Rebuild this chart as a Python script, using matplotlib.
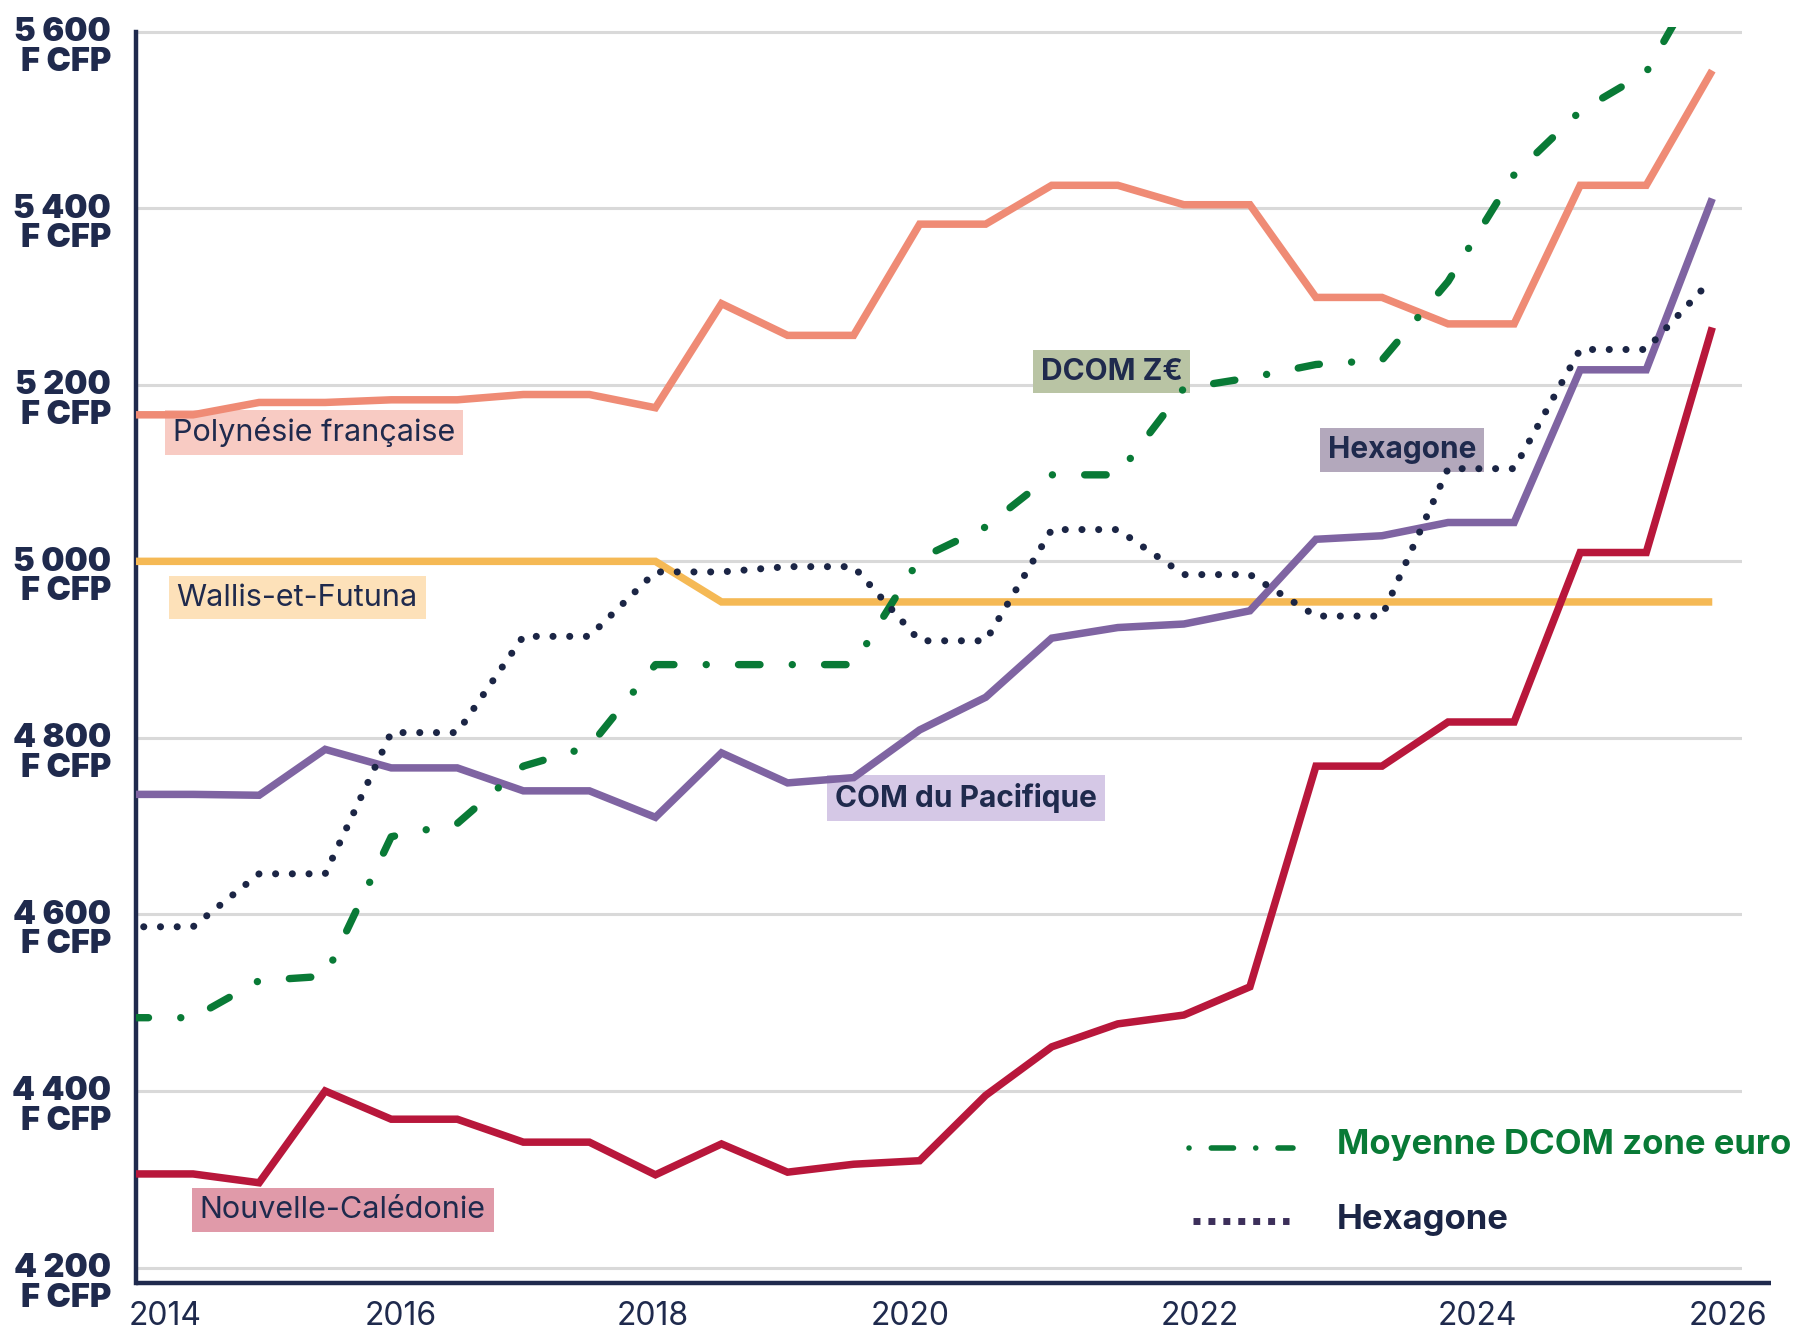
import matplotlib.pyplot as plt
from matplotlib import transforms

# points semestriels (0 = début 2014 ... 24 = fin 2025)
semesters = list(range(25))

polynesie = [5166, 5166, 5180, 5180, 5183, 5183, 5189, 5189, 5174, 5292, 5256, 5256, 5382,
             5382, 5426, 5426, 5404, 5404, 5299, 5299, 5269, 5269, 5426, 5426, 5556]
wallis = [5000, 5000, 5000, 5000, 5000, 5000, 5000, 5000, 5000, 4954, 4954, 4954, 4954,
          4954, 4954, 4954, 4954, 4954, 4954, 4954, 4954, 4954, 4954, 4954, 4954]
com_pacifique = [4736, 4736, 4735, 4787, 4766, 4766, 4740, 4740, 4710, 4783, 4749, 4755, 4809,
                 4846, 4913, 4925, 4929, 4944, 5025, 5029, 5044, 5044, 5217, 5217, 5411]
caledonie = [4306, 4306, 4296, 4400, 4368, 4368, 4342, 4342, 4305, 4340, 4308, 4317, 4321,
             4395, 4450, 4476, 4486, 4518, 4768, 4768, 4818, 4818, 5010, 5010, 5265]
hexagone = [4586, 4586, 4646, 4646, 4806, 4806, 4915, 4915, 4988, 4988, 4994, 4994, 4910,
            4910, 5036, 5036, 4985, 4985, 4938, 4938, 5105, 5105, 5240, 5240, 5320]
dcom_euro = [4483, 4483, 4525, 4530, 4688, 4703, 4768, 4790, 4883, 4883, 4883, 4883, 5003,
             5039, 5098, 5098, 5196, 5208, 5223, 5228, 5317, 5438, 5510, 5554, 5685]

year_labels = ["2014", "2016", "2018", "2020", "2022", "2024", "2026"]
year_pos = [0.575, 4.148, 7.957, 11.853, 16.243, 20.451, 24.236]
y_ticks = [4200, 4400, 4600, 4800, 5000, 5200, 5400, 5600]

# étiquettes posées sur le graphique : texte, x, y, fond, graisse
tags = [
    ("Polynésie française", 0.70, 5146, "#f8cbc3", "normal"),
    ("Wallis-et-Futuna", 0.75, 4959, "#fde1b9", "normal"),
    ("Nouvelle-Calédonie", 1.10, 4265, "#e09aa9", "normal"),
    ("COM du Pacifique", 10.72, 4732, "#d5c8e6", "bold"),
    ("DCOM Z€", 13.83, 5215, "#b9c4a4", "bold"),
    ("Hexagone", 18.18, 5126, "#b3a8bc", "bold"),
]

NAVY = "#1f2a4d"
GREEN = "#097a36"

plt.rcParams["font.family"] = ["Inter", "DejaVu Sans"]

fig = plt.figure(figsize=(18.02, 13.30), dpi=100)
ax = fig.add_axes([0.07525, 0.03504, 0.89145, 0.94443])

solid = dict(lw=5.4, solid_capstyle="butt", solid_joinstyle="miter")
ax.plot(semesters, wallis, color="#f5b955", zorder=3, **solid)
ax.plot(semesters, polynesie, color="#ef8b75", zorder=3, **solid)
ax.plot(semesters, caledonie, color="#b8173b", zorder=3, **solid)
ax.plot(semesters, com_pacifique, color="#7f64a2", zorder=3, **solid)

green_line, = ax.plot(semesters, dcom_euro, color=GREEN, lw=5.3,
                      dash_capstyle="round", zorder=4)
green_line.set_dashes([2.92, 4.38, 0.01, 4.38])
hexa_line, = ax.plot(semesters, hexagone, color="#1b2545", lw=5.1,
                     dash_capstyle="round", zorder=5)
hexa_line.set_dashes([0.01, 2.35])

for text, x, y, bg, weight in tags:
    size = 21.5 if weight == "bold" else 22
    ax.text(x, y, text, ha="left", va="center", fontsize=size, fontweight=weight,
            color=NAVY, zorder=2,
            bbox=dict(boxstyle="square,pad=0.26", fc=bg, ec="none"))

ax.set_xlim(0.13, 24.45)
ax.set_ylim(4182, 5605)

ax.set_yticks(y_ticks)
ax.set_yticklabels([])
ax.set_xticks(year_pos, year_labels)
ax.tick_params(axis="both", length=0)
ax.tick_params(axis="x", pad=13, labelsize=23, labelcolor=NAVY)

ax.yaxis.grid(True, color="#d9d9d9", lw=2.2)
ax.set_axisbelow(True)

for side in ["top", "right", "bottom"]:
    ax.spines[side].set_visible(False)
ax.spines["left"].set_color(NAVY)
ax.spines["left"].set_linewidth(3.2)
ax.spines["left"].set_bounds(4182, 5600)
ax.plot([0, 1.018], [0, 0], transform=ax.transAxes, clip_on=False,
        color=NAVY, lw=3.2, solid_capstyle="butt", zorder=6)

# libellés de l'axe des ordonnées sur deux lignes (baseline de "F CFP")
base = transforms.blended_transform_factory(ax.transAxes, ax.transData)
label_tr = transforms.offset_copy(base, fig=fig, y=-39, units="dots")
for v in y_ticks:
    ax.text(-0.0153, v, f"{v // 1000} {v % 1000:03d}\nF CFP", transform=label_tr,
            ha="right", va="baseline", multialignment="right", linespacing=0.94,
            fontsize=23.5, fontweight="black", color=NAVY, clip_on=False)

# légende
leg_green, = ax.plot([0.6557, 0.7205], [0.1078, 0.1078], transform=ax.transAxes,
                     color=GREEN, lw=4.0, dash_capstyle="round", clip_on=False)
leg_green.set_dashes([0.01, 4, 4, 4])
leg_hexa, = ax.plot([0.6581, 0.7180], [0.0497, 0.0497], transform=ax.transAxes,
                    color="#3c2f5a", lw=5.0, dash_capstyle="butt", clip_on=False)
leg_hexa.set_dashes([1.0, 1.15])
ax.text(0.7479, 0.1032, "Moyenne DCOM zone euro", transform=ax.transAxes,
        fontsize=25, fontweight="bold", color=GREEN, va="baseline", clip_on=False)
ax.text(0.7479, 0.0433, "Hexagone", transform=ax.transAxes,
        fontsize=25, fontweight="bold", color="#1b2545", va="baseline", clip_on=False)

fig.savefig("out.png", dpi=100)
